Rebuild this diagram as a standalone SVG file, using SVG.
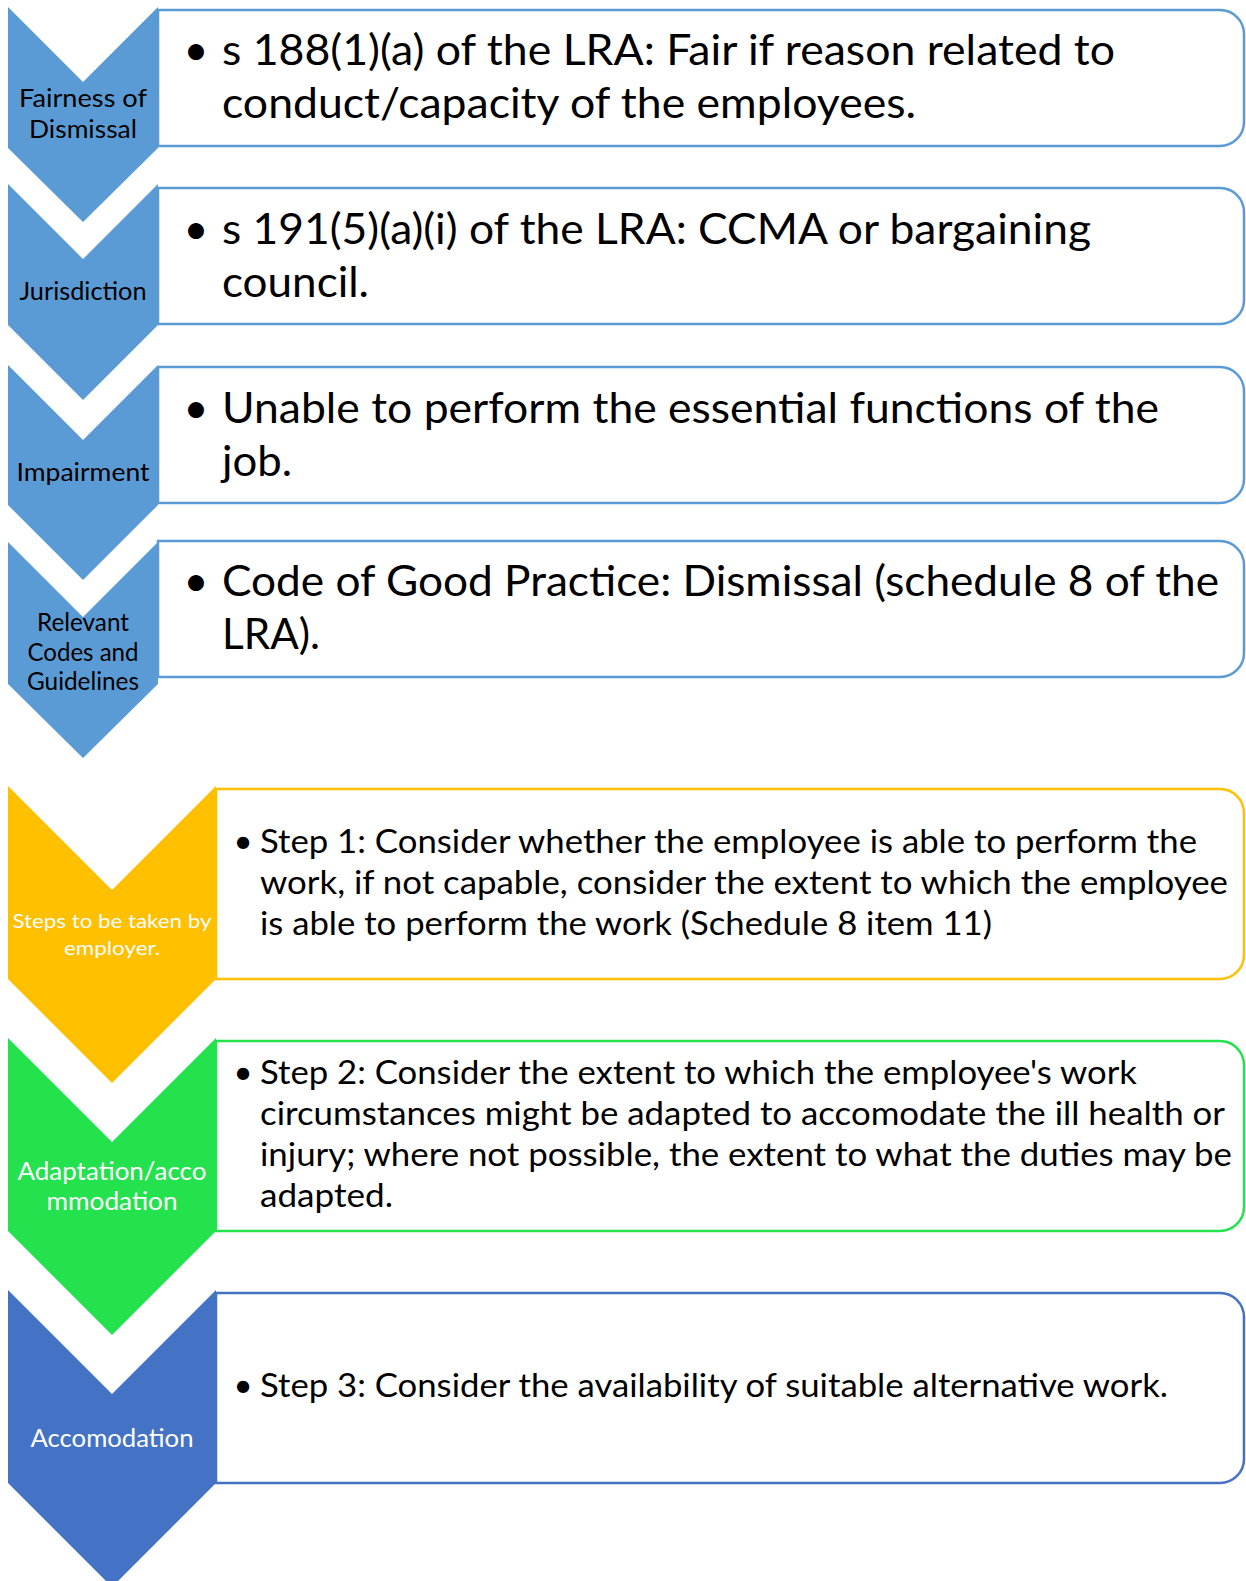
<svg xmlns="http://www.w3.org/2000/svg" width="1246" height="1581" viewBox="0 0 1246 1581">
<style>
text{font-family:"Lato","Liberation Sans",sans-serif;}
.box{fill:#fff;stroke-width:2.5;}
.b1{stroke:#5B9BD5;}
.b2{stroke:#FFC000;}
.b3{stroke:#24E24D;}
.b4{stroke:#4472C4;}
.c1{fill:#5B9BD5;}
.c2{fill:#FFC000;}
.c3{fill:#24E24D;}
.c4{fill:#4472C4;}
.big{font-size:43px;fill:#000;}
.mid{font-size:33px;fill:#000;}
.lab{font-size:25px;fill:#000;text-anchor:middle;}
.labw{font-size:25px;fill:#fff;text-anchor:middle;}
.bul{text-anchor:middle;}
</style>
<rect width="1246" height="1581" fill="#fff"/>

<g id="node1">
<path class="box b1" d="M158,10 H1220 A24,24 0 0 1 1244,34 V122 A24,24 0 0 1 1220,146 H158 Z"/>
<polygon class="c1" points="8,7 83,82 158,7 158,148 83,222 8,148"/>
<text class="lab" x="83" y="107" textLength="128" lengthAdjust="spacingAndGlyphs">Fairness of</text>
<text class="lab" x="83" y="138" textLength="108" lengthAdjust="spacingAndGlyphs">Dismissal</text>
<text class="big bul" x="196" y="65">•</text>
<text class="big" x="222" y="65" textLength="893" lengthAdjust="spacingAndGlyphs">s 188(1)(a) of the LRA: Fair if reason related to</text>
<text class="big" x="222" y="118" textLength="694" lengthAdjust="spacingAndGlyphs">conduct/capacity of the employees.</text>
</g>

<g id="node2">
<path class="box b1" d="M158,188 H1220 A24,24 0 0 1 1244,212 V300 A24,24 0 0 1 1220,324 H158 Z"/>
<polygon class="c1" points="8,184 83,259 158,184 158,325 83,400 8,325"/>
<text class="lab" x="83" y="300" textLength="127" lengthAdjust="spacingAndGlyphs">Jurisdiction</text>
<text class="big bul" x="196" y="244">•</text>
<text class="big" x="222" y="244" textLength="869" lengthAdjust="spacingAndGlyphs">s 191(5)(a)(i) of the LRA: CCMA or bargaining</text>
<text class="big" x="222" y="297" textLength="147" lengthAdjust="spacingAndGlyphs">council.</text>
</g>

<g id="node3">
<path class="box b1" d="M158,367 H1220 A24,24 0 0 1 1244,391 V479 A24,24 0 0 1 1220,503 H158 Z"/>
<polygon class="c1" points="8,365 83,440 158,365 158,505 83,580 8,505"/>
<text class="lab" x="83" y="481" textLength="133" lengthAdjust="spacingAndGlyphs">Impairment</text>
<text class="big bul" x="196" y="423">•</text>
<text class="big" x="222" y="423" textLength="937" lengthAdjust="spacingAndGlyphs">Unable to perform the essential functions of the</text>
<text class="big" x="222" y="476" textLength="70" lengthAdjust="spacingAndGlyphs">job.</text>
</g>

<g id="node4">
<path class="box b1" d="M158,541 H1220 A24,24 0 0 1 1244,565 V653 A24,24 0 0 1 1220,677 H158 Z"/>
<polygon class="c1" points="8,542 83,617 158,542 158,684 83,758 8,684"/>
<text class="lab" x="83" y="631" textLength="92" lengthAdjust="spacingAndGlyphs">Relevant</text>
<text class="lab" x="83" y="661" textLength="111" lengthAdjust="spacingAndGlyphs">Codes and</text>
<text class="lab" x="83" y="690" textLength="112" lengthAdjust="spacingAndGlyphs">Guidelines</text>
<text class="big bul" x="196" y="596">•</text>
<text class="big" x="222" y="596" textLength="997" lengthAdjust="spacingAndGlyphs">Code of Good Practice: Dismissal (schedule 8 of the</text>
<text class="big" x="222" y="649" textLength="98" lengthAdjust="spacingAndGlyphs">LRA).</text>
</g>

<g id="node5">
<path class="box b2" d="M216,789 H1220 A24,24 0 0 1 1244,813 V955 A24,24 0 0 1 1220,979 H216 Z"/>
<polygon class="c2" points="8,786 112,890 216,786 216,979 112,1083 8,979"/>
<text class="labw" x="112" y="928" style="font-size:20px" textLength="199" lengthAdjust="spacingAndGlyphs">Steps to be taken by</text>
<text class="labw" x="112" y="955" style="font-size:20px" textLength="96" lengthAdjust="spacingAndGlyphs">employer.</text>
<text class="mid bul" x="243" y="853">•</text>
<text class="mid" x="260" y="853" textLength="937" lengthAdjust="spacingAndGlyphs">Step 1: Consider whether the employee is able to perform the</text>
<text class="mid" x="260" y="894" textLength="968" lengthAdjust="spacingAndGlyphs">work, if not capable, consider the extent to which the employee</text>
<text class="mid" x="260" y="935" textLength="732" lengthAdjust="spacingAndGlyphs">is able to perform the work (Schedule 8 item 11)</text>
</g>

<g id="node6">
<path class="box b3" d="M216,1041 H1220 A24,24 0 0 1 1244,1065 V1207 A24,24 0 0 1 1220,1231 H216 Z"/>
<polygon class="c3" points="8,1038 112,1142 216,1038 216,1231 112,1335 8,1231"/>
<text class="labw" x="112" y="1180" textLength="189" lengthAdjust="spacingAndGlyphs">Adaptation/acco</text>
<text class="labw" x="112" y="1210" textLength="131" lengthAdjust="spacingAndGlyphs">mmodation</text>
<text class="mid bul" x="243" y="1084">•</text>
<text class="mid" x="260" y="1084" textLength="877" lengthAdjust="spacingAndGlyphs">Step 2: Consider the extent to which the employee's work</text>
<text class="mid" x="260" y="1125" textLength="965" lengthAdjust="spacingAndGlyphs">circumstances might be adapted to accomodate the ill health or</text>
<text class="mid" x="260" y="1166" textLength="972" lengthAdjust="spacingAndGlyphs">injury; where not possible, the extent to what the duties may be</text>
<text class="mid" x="260" y="1207" textLength="133" lengthAdjust="spacingAndGlyphs">adapted.</text>
</g>

<g id="node7">
<path class="box b4" d="M216,1293 H1220 A24,24 0 0 1 1244,1317 V1459 A24,24 0 0 1 1220,1483 H216 Z"/>
<polygon class="c4" points="8,1290 112,1394 216,1290 216,1483 112,1587 8,1483"/>
<text class="labw" x="112" y="1447" textLength="163" lengthAdjust="spacingAndGlyphs">Accomodation</text>
<text class="mid bul" x="243" y="1397">•</text>
<text class="mid" x="260" y="1397" textLength="908" lengthAdjust="spacingAndGlyphs">Step 3: Consider the availability of suitable alternative work.</text>
</g>

<g id="connectors"></g>
</svg>
